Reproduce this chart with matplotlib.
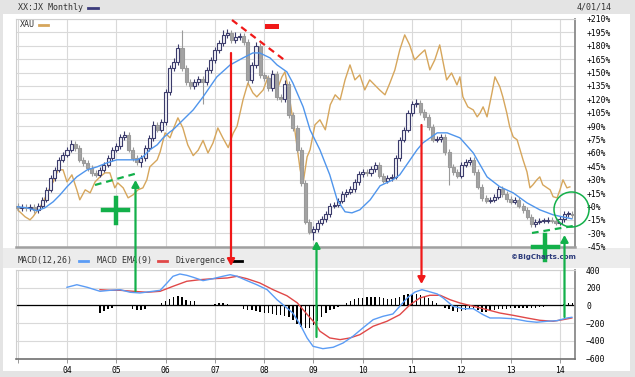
import numpy as np
import matplotlib.pyplot as plt
from matplotlib.patches import Rectangle, FancyArrowPatch, Ellipse
from matplotlib.lines import Line2D

# monthly closes (% change), Jan 2003 .. Apr 2014
closes = [
    -1.5, -0.3, -1.5, -0.3, -3.7, 0.8, 7.5, 18.7, 32.1, 41.1, 52.3, 57.9,
    63.5, 70.2, 65.7, 52.3, 48.9, 43.3, 37.7, 35.5, 41.1, 46.7, 54.5, 63.5,
    67.9, 78.0, 80.3, 63.5, 54.5, 50.0, 54.5, 65.7, 76.9, 91.5, 85.9, 94.8,
    128.4, 155.3, 162.0, 177.7, 155.3, 139.6, 135.1, 139.6, 143.0, 139.6, 153.0, 164.2,
    175.4, 183.2, 192.2, 194.4, 186.6, 189.9, 191.1, 184.4, 141.8, 158.6, 179.9, 147.4,
    144.1, 132.9, 148.5, 122.8, 120.6, 137.4, 102.6, 88.1, 63.5, 26.5, -17.1, -28.3,
    -25.0, -18.2, -13.8, -8.2, 0.8, 1.9, 6.4, 14.2, 16.5, 19.8, 27.6, 36.6,
    38.8, 37.7, 42.2, 46.7, 34.4, 28.8, 32.1, 33.3, 54.5, 74.7, 85.9, 104.9,
    115.0, 116.1, 106.0, 100.4, 89.2, 74.7, 75.8, 78.0, 61.2, 44.4, 38.8, 34.4,
    46.7, 50.0, 52.3, 38.8, 22.1, 9.7, 6.4, 7.5, 10.9, 19.8, 14.2, 8.6,
    5.3, 7.5, 0.8, -3.7, -11.5, -19.4, -17.1, -16.0, -16.0, -14.9, -16.0, -18.2,
    -13.8, -8.2, -8.2, -9.3,
]
first_open = 0.5
wick_up = [
    3, 3, 3, 3, 3, 3, 3, 3, 3, 3, 3, 3,
    3, 4, 3, 3, 3, 3, 3, 3, 3, 3, 3, 3,
    3, 3, 4, 3, 3, 3, 3, 3, 3, 4, 3, 3,
    3, 3, 4, 4, 20, 3, 3, 3, 3, 3, 3, 3,
    3, 3, 5, 4, 3, 6, 3, 3, 3, 3, 4, 3,
    3, 3, 4, 3, 3, 4, 3, 3, 3, 3, 3, 3,
    3, 3, 3, 3, 3, 3, 3, 3, 3, 3, 3, 3,
    3, 3, 3, 3, 3, 3, 3, 3, 3, 3, 3, 3,
    3, 4, 3, 3, 3, 3, 3, 3, 3, 3, 3, 3,
    3, 3, 3, 3, 3, 3, 3, 3, 3, 3, 3, 3,
    3, 3, 3, 3, 3, 3, 3, 3, 3, 3, 3, 3,
    3, 3, 3, 3,
]
wick_dn = [
    3, 3, 3, 3, 3, 3, 3, 3, 3, 3, 3, 3,
    3, 3, 3, 3, 3, 3, 3, 3, 3, 3, 3, 3,
    3, 3, 3, 3, 3, 3, 6, 3, 3, 3, 3, 3,
    3, 3, 3, 3, 3, 3, 3, 3, 3, 25, 3, 3,
    3, 3, 3, 3, 3, 3, 3, 3, 3, 3, 3, 3,
    3, 3, 3, 3, 3, 3, 3, 3, 3, 3, 3, 3,
    9, 3, 3, 3, 3, 3, 3, 3, 3, 3, 3, 3,
    3, 3, 3, 3, 3, 3, 3, 3, 3, 3, 3, 3,
    3, 3, 3, 3, 3, 3, 3, 3, 3, 20, 3, 3,
    3, 3, 3, 3, 3, 3, 3, 3, 3, 3, 3, 3,
    3, 3, 3, 3, 3, 3, 3, 3, 3, 3, 3, 3,
    3, 3, 3, 3,
]

# moving average of the price (blue)
ema_x = [2003.0, 2003.19, 2003.39, 2003.55, 2003.72, 2003.86, 2004.0, 2004.2, 2004.41, 2004.61,
         2004.81, 2005.01, 2005.22, 2005.42, 2005.54, 2005.68, 2005.83, 2005.95, 2006.09, 2006.15,
         2006.56, 2006.76, 2007.04, 2007.31, 2007.57, 2007.77, 2007.91, 2008.12, 2008.26, 2008.46,
         2008.58, 2008.79, 2008.93, 2009.13, 2009.33, 2009.48, 2009.64, 2009.78, 2009.94, 2010.15,
         2010.35, 2010.61, 2010.75, 2010.96, 2011.1, 2011.22, 2011.51, 2011.71, 2011.97, 2012.24,
         2012.52, 2012.78, 2013.05, 2013.33, 2013.59, 2013.86, 2014.14, 2014.24]
ema_y = [-0.3, -1.5, -4.8, -1.5, 5.3, 13.1, 22.1, 33.3, 41.1, 44.4,
         48.9, 52.3, 52.3, 52.3, 55.6, 63.5, 69.1, 76.9, 83.6, 85.9,
         108.2, 122.8, 145.2, 158.6, 166.4, 172.0, 172.0, 166.4, 158.6, 150.8,
         138.5, 111.6, 85.9, 63.5, 35.5, 7.5, -5.9, -7.1, -3.7, 7.5,
         23.2, 29.9, 35.5, 52.3, 63.5, 71.3, 82.5, 82.5, 76.9, 60.1,
         33.2, 22.1, 15.3, 4.1, -3.7, -9.3, -12.6, -13.8]

# XAU comparison line (tan)
xau_x = [2003.0, 2003.15, 2003.25, 2003.31, 2003.41, 2003.51, 2003.61, 2003.72, 2003.82, 2003.92,
         2004.0, 2004.1, 2004.2, 2004.26, 2004.37, 2004.47, 2004.57, 2004.67, 2004.77, 2004.87,
         2004.97, 2005.03, 2005.14, 2005.24, 2005.34, 2005.44, 2005.54, 2005.62, 2005.68, 2005.83,
         2005.89, 2005.99, 2006.09, 2006.15, 2006.25, 2006.35, 2006.45, 2006.56, 2006.66, 2006.76,
         2006.86, 2006.96, 2007.06, 2007.16, 2007.27, 2007.37, 2007.45, 2007.57, 2007.67, 2007.77,
         2007.85, 2007.98, 2008.08, 2008.18, 2008.26, 2008.36, 2008.42, 2008.48, 2008.56, 2008.62,
         2008.73, 2008.79, 2008.87, 2008.93, 2009.03, 2009.13, 2009.24, 2009.34, 2009.44, 2009.54,
         2009.64, 2009.74, 2009.84, 2009.94, 2010.04, 2010.14, 2010.24, 2010.34, 2010.45, 2010.55,
         2010.65, 2010.75, 2010.85, 2010.95, 2011.05, 2011.15, 2011.26, 2011.36, 2011.46, 2011.56,
         2011.62, 2011.70, 2011.80, 2011.91, 2011.97, 2012.03, 2012.13, 2012.24, 2012.32, 2012.38,
         2012.44, 2012.52, 2012.62, 2012.68, 2012.78, 2012.84, 2012.92, 2012.98, 2013.05, 2013.13,
         2013.19, 2013.25, 2013.33, 2013.39, 2013.45, 2013.53, 2013.59, 2013.65, 2013.74, 2013.8,
         2013.86, 2013.94, 2014.0, 2014.06, 2014.14, 2014.2]
xau_y = [-3.7, -11.5, -14.9, -11.5, -3.7, 4.1, 16.5, 27.6, 41.1, 41.1,
         27.6, 35.5, 18.7, 7.5, 18.7, 15.3, 27.6, 33.2, 37.7, 37.7,
         20.9, 26.5, 20.9, 9.7, 13.1, 18.7, 20.9, 29.9, 44.4, 52.3,
         61.2, 82.5, 76.9, 85.9, 99.3, 88.1, 69.0, 57.0, 63.0, 74.0,
         60.0, 71.0, 88.0, 77.0, 66.0, 82.0, 90.0, 119.4, 138.4, 127.3,
         122.8, 130.6, 145.2, 134.0, 130.6, 145.2, 150.8, 134.0, 104.8, 85.9,
         41.1, 26.5, 55.6, 63.5, 91.5, 97.1, 85.9, 113.9, 125.1, 119.4,
         141.8, 158.6, 141.8, 147.4, 130.6, 141.8, 136.2, 130.6, 125.1, 138.4,
         152.9, 175.4, 192.2, 181.0, 164.2, 169.8, 175.4, 153.0, 164.2, 181.0,
         164.2, 141.8, 149.6, 136.2, 145.2, 122.8, 111.6, 108.2, 100.4, 104.9,
         111.6, 100.4, 127.3, 145.2, 134.0, 122.8, 104.9, 89.2, 78.0, 74.7,
         63.5, 52.3, 38.8, 20.9, 24.3, 29.9, 33.2, 24.3, 20.9, 18.7,
         11.0, 9.7, 18.7, 29.9, 20.9, 22.0]

# MACD panel
macd_x = [2004.0, 2004.2, 2004.41, 2004.67, 2004.87, 2005.08, 2005.28, 2005.48, 2005.74, 2005.89,
          2006.03, 2006.15, 2006.29, 2006.43, 2006.56, 2006.76, 2006.96, 2007.16, 2007.31, 2007.45,
          2007.65, 2007.85, 2008.06, 2008.26, 2008.46, 2008.58, 2008.73, 2008.87, 2008.99, 2009.19,
          2009.4, 2009.6, 2009.8, 2010.0, 2010.21, 2010.41, 2010.61, 2010.75, 2010.9, 2011.06,
          2011.2, 2011.32, 2011.51, 2011.63, 2011.83, 2012.03, 2012.24, 2012.44, 2012.58, 2012.78,
          2013.05, 2013.33, 2013.53, 2013.74, 2013.94, 2014.14, 2014.24]
macd_y = [205, 234, 205, 160, 171, 178, 149, 141, 160, 171,
          254, 329, 355, 340, 318, 280, 302, 329, 347, 329,
          280, 234, 178, 65, -28, -85, -216, -366, -460, -487,
          -471, -423, -347, -254, -160, -122, -96, -9, 85, 152,
          178, 160, 130, 85, -9, -36, -36, -104, -141, -141,
          -149, -178, -189, -178, -171, -141, -133]
signal_x = [2004.67, 2004.87, 2005.08, 2005.34, 2005.62, 2005.89, 2006.15, 2006.43, 2006.7, 2006.96,
            2007.25, 2007.45, 2007.65, 2007.91, 2008.18, 2008.46, 2008.67, 2008.87, 2009.03, 2009.13,
            2009.33, 2009.54, 2009.74, 2009.94, 2010.21, 2010.49, 2010.75, 2010.96, 2011.16, 2011.36,
            2011.57, 2011.77, 2011.97, 2012.24, 2012.52, 2012.78, 2013.05, 2013.33, 2013.59, 2013.86,
            2014.06, 2014.24]
signal_y = [178, 171, 171, 160, 149, 160, 216, 273, 291, 302,
            310, 329, 302, 254, 178, 110, 30, -100, -200, -290,
            -366, -385, -366, -329, -234, -178, -104, 9, 85, 115,
            115, 65, 28, -9, -47, -85, -111, -141, -167, -178,
            -160, -141]
# divergence bars, monthly from Sep 2004
divergence = [
    -80, -60, -45, -25,
    -10, 0, 0, 0, -40, -55, -50, -45, 0, 0, 0, 30,
    50, 75, 95, 110, 100, 65, 45, 45, 0, -10, -10, 0,
    20, 25, 25, 20, 0, 0, 0, -40, -50, -55, -60, -70,
    -80, -90, -95, -105, -110, -115, -125, -160, -210, -245, -250, -250,
    -215, -170, -125, -90, -55, -40, -20, 10, 30, 50, 70, 80,
    85, 90, 90, 100, 90, 80, 70, 70, 80, 100, 120, 130,
    130, 130, 120, 100, 85, 55, 30, 0, -25, -45, -65, -70,
    -60, -50, -40, -35, -55, -75, -70, -60, -55, -45, -35, -35,
    -30, -25, -25, -25, -30, -30, -25, -20, -15, -10, 0, 0,
    0, 20, 25, 25,
]
div_start = 20  # month index of first bar

year_ticks = list(range(2003, 2015))
year_labels = ['', '04', '05', '06', '07', '08', '09', '10', '11', '12', '13', '14']
pct_ticks = list(range(-45, 211, 15))
macd_ticks = [-600, -400, -200, 0, 200, 400]

W, H = 635, 377
MONO = 'DejaVu Sans Mono'
grid_c = '#d9d9d9'


def fpos(x, y):
    return (x / W, 1 - y / H)


fig = plt.figure(figsize=(W / 100, H / 100), dpi=100, facecolor='#e4e4e4')
# white page, gray strips
fig.add_artist(Rectangle(fpos(3, 371), 627 / W, 357 / H, transform=fig.transFigure,
                         facecolor='white', edgecolor='none', zorder=0))
fig.add_artist(Rectangle(fpos(3, 268), 627 / W, 20 / H, transform=fig.transFigure,
                         facecolor='#ececec', edgecolor='none', zorder=0))

ax = fig.add_axes([16 / W, 1 - 246.7 / H, 559 / W, 227.7 / H])
ax2 = fig.add_axes([16 / W, 1 - 358.7 / H, 559 / W, 88.7 / H], sharex=ax)
xlim = (2002.966, 2014.304)

# candles
months = np.arange(len(closes))
xs = 2003 + months / 12
opens = [first_open] + closes[:-1]
for x, o, c, wu, wd in zip(xs, opens, closes, wick_up, wick_dn):
    up = c >= o
    lo, hi = min(o, c), max(o, c)
    col = '#3b3b6b' if up else '#9a9a9a'
    ax.vlines(x, lo - wd, hi + wu, color=col, lw=0.8, zorder=3)
    ax.bar(x, max(hi - lo, 0.8), bottom=lo, width=0.062,
           facecolor='#f2f2f6' if up else '#a3a3a3', edgecolor=col, lw=0.8, zorder=4)

ax.plot(xau_x, xau_y, color='#d6a65c', lw=1.0, zorder=2)
ax.plot(ema_x, ema_y, color='#4f95ec', lw=1.0, zorder=5)

ax.set_xlim(*xlim)
ax.set_ylim(-45, 210)
ax.set_yticks(pct_ticks)
ax.set_yticklabels([('+%d%%' % v) if v >= 0 else ('%d%%' % v) for v in pct_ticks])
ax.set_xticks(year_ticks)
ax.grid(True, color=grid_c, lw=0.8)
ax.set_axisbelow(True)
ax.yaxis.tick_right()
ax.tick_params(axis='y', length=0, pad=8, labelsize=5.8)
ax.tick_params(axis='x', length=0, labelbottom=False)
for lab in ax.get_yticklabels():
    lab.set_fontfamily(MONO)
for s in ['left', 'top']:
    ax.spines[s].set_color('#cfcfcf')
ax.spines['right'].set_color('#8a8a8a')
ax.spines['right'].set_linewidth(1.3)
ax.spines['bottom'].set_color('#a0a0a0')
ax.spines['bottom'].set_linewidth(1.8)

# MACD
div_x = 2003 + (div_start + np.arange(len(divergence))) / 12
ax2.bar(div_x, divergence, width=0.028, color='black', zorder=3)
ax2.axhline(0, color='black', lw=0.9, zorder=2)
ax2.plot(signal_x, signal_y, color='#e04848', lw=1.0, zorder=4)
ax2.plot(macd_x, macd_y, color='#5b9cf5', lw=1.0, zorder=5)
ax2.set_ylim(-600, 400)
ax2.set_yticks(macd_ticks)
ax2.yaxis.tick_right()
ax2.set_xticks(year_ticks)
ax2.set_xticklabels(year_labels)
ax2.grid(True, color=grid_c, lw=0.8)
ax2.set_axisbelow(True)
ax2.tick_params(axis='y', length=0, pad=8, labelsize=5.8)
ax2.tick_params(axis='x', length=3, width=0.6, color='#888888', pad=2, labelsize=5.8)
for lab in ax2.get_yticklabels() + ax2.get_xticklabels():
    lab.set_fontfamily(MONO)
for s in ['left', 'top']:
    ax2.spines[s].set_color('#cfcfcf')
ax2.spines['right'].set_color('#8a8a8a')
ax2.spines['right'].set_linewidth(1.3)
ax2.spines['bottom'].set_color('#707070')
ax2.spines['bottom'].set_linewidth(1.2)

# header & legends
def ftext(x, y, s, ha='left', **kw):
    kw.setdefault('fontfamily', MONO)
    kw.setdefault('fontsize', 6)
    fig.text(x / W, 1 - y / H, s, va='center', ha=ha, **kw)


def fdash(x0, x1, y, color):
    fig.add_artist(Line2D([x0 / W, x1 / W], [1 - y / H] * 2, transform=fig.transFigure,
                          color=color, lw=2))


ftext(18, 7.5, 'XX:JX Monthly', color='#333333')
fdash(88, 98, 7.5, '#3b3b7b')
ftext(577, 7.5, '4/01/14', color='#333333')
ftext(20, 24.5, 'XAU', color='#333333')
fdash(39, 48, 24.5, '#d6a65c')
ftext(18, 260.5, 'MACD(12,26)', color='#333333')
fdash(79, 88, 260.5, '#5b9cf5')
ftext(97, 260.5, 'MACD EMA(9)', color='#333333')
fdash(158, 167, 260.5, '#e04848')
ftext(176, 260.5, 'Divergence', color='#333333')
fdash(231, 242, 260.5, 'black')
ftext(576, 257, '\u00a9BigCharts.com', ha='right', color='#2b3a7a', fontfamily='DejaVu Sans',
      fontsize=5.0, fontweight='bold')

# hand-drawn annotations
RED = '#f01818'
GREEN = '#13b04a'
fig.add_artist(Line2D([232 / W, 287 / W], [1 - 20 / H, 1 - 62 / H], transform=fig.transFigure,
                      color=RED, lw=1.6, ls=(0, (3, 2.2))))
fig.add_artist(Rectangle(fpos(265, 29), 14 / W, 4.5 / H, transform=fig.transFigure,
                         facecolor=RED, edgecolor='none'))


def farrow(x, y0, y1, color):
    fig.add_artist(FancyArrowPatch(fpos(x, y0), fpos(x, y1), transform=fig.transFigure,
                                   arrowstyle='-|>,head_length=4,head_width=2.2',
                                   color=color, lw=1.6, shrinkA=0, shrinkB=0, zorder=10))


farrow(231, 53, 266, RED)
farrow(421.5, 125, 284, RED)
farrow(135.5, 291, 180, GREEN)
farrow(316.5, 337, 241, GREEN)
farrow(564.5, 317, 235, GREEN)

for (x0, y0, x1, y1) in [(95, 185, 138, 173), (532, 233, 573, 226)]:
    fig.add_artist(Line2D([x0 / W, x1 / W], [1 - y0 / H, 1 - y1 / H], transform=fig.transFigure,
                          color=GREEN, lw=1.6, ls=(0, (3, 2.2))))

for (cx, cy) in [(115.5, 210), (545, 247)]:
    fig.add_artist(Line2D([(cx - 12.5) / W, (cx + 12.5) / W], [1 - cy / H] * 2,
                          transform=fig.transFigure, color=GREEN, lw=3.2))
    fig.add_artist(Line2D([cx / W] * 2, [1 - (cy - 12.5) / H, 1 - (cy + 12.5) / H],
                          transform=fig.transFigure, color=GREEN, lw=3.2))

fig.add_artist(Ellipse(fpos(571.5, 209.5), 35 / W, 35 / H, transform=fig.transFigure,
                       facecolor='none', edgecolor=GREEN, lw=1.1, zorder=10))

fig.savefig('out.png', dpi=100, facecolor=fig.get_facecolor())
